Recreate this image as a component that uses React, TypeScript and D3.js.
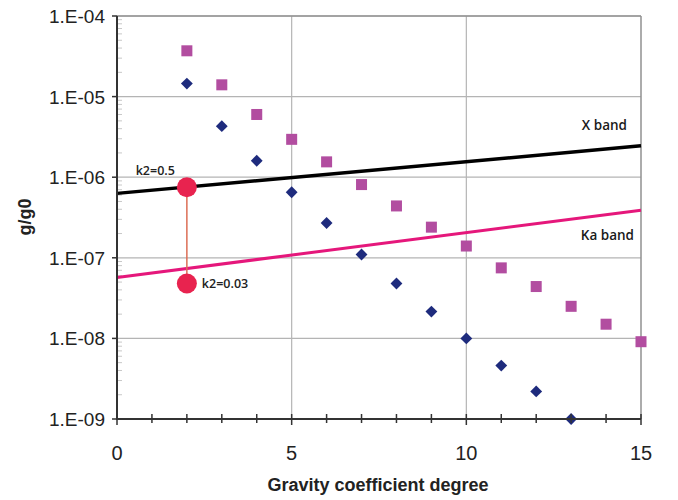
import React from 'react';
import * as d3 from 'd3';

// degrees and values
const degrees = [2, 3, 4, 5, 6, 7, 8, 9, 10, 11, 12, 13, 14, 15];
const diamondValues = [1.45e-5, 4.3e-6, 1.6e-6, 6.5e-7, 2.7e-7, 1.1e-7, 4.8e-8, 2.15e-8, 1.0e-8, 4.6e-9, 2.2e-9, 1.0e-9];
const squareValues = [3.7e-5, 1.4e-5, 6.0e-6, 2.95e-6, 1.55e-6, 8.1e-7, 4.4e-7, 2.4e-7, 1.4e-7, 7.5e-8, 4.4e-8, 2.5e-8, 1.5e-8, 9.1e-9];
const xBand = [{ x: 0, y: 6.3e-7 }, { x: 15, y: 2.45e-6 }];
const kaBand = [{ x: 0, y: 5.7e-8 }, { x: 15, y: 3.9e-7 }];
const k2Points = [{ x: 2, y: 7.5e-7, label: 'k2=0.5' }, { x: 2, y: 4.8e-8, label: 'k2=0.03' }];
const yTicks = [1e-4, 1e-5, 1e-6, 1e-7, 1e-8, 1e-9];
const yTickLabels = ['1.E-04', '1.E-05', '1.E-06', '1.E-07', '1.E-08', '1.E-09'];
const xTicks = [0, 5, 10, 15];

const W = 678;
const H = 500;
const margin = { top: 16, right: 37, bottom: 81, left: 117 };

export default function App() {
    const x = d3.scaleLinear().domain([0, 15]).range([margin.left, W - margin.right]);
    const y = d3.scaleLog().domain([1e-9, 1e-4]).range([H - margin.bottom, margin.top]);

    const minorY: number[] = [];
    for (let e = -9; e < -4; e++) {
        for (let m = 2; m <= 9; m++) minorY.push(m * Math.pow(10, e));
    }
    const minorX = d3.range(0, 16);

    const line = d3.line<{ x: number; y: number }>().x(d => x(d.x)).y(d => y(d.y));
    // square turned 45 degrees, as in the original chart
    const diamond = d3.symbol().type(d3.symbolSquare).size(70)();
    const left = x(0), right = x(15), top = y(1e-4), bottom = y(1e-9);
    const sans = 'Liberation Sans, Arial, sans-serif';
    const labelFont = 'Open Sans, sans-serif';

    return (
        <svg width={W} height={H} style={{ position: 'absolute', left: 0, top: 0, background: '#fff' }}>
            {/* grid */}
            {yTicks.map(t => (
                <line key={'gy' + t} x1={left} x2={right} y1={y(t)} y2={y(t)} stroke="#b4b4b4" strokeWidth={1.2} />
            ))}
            {[5, 10].map(t => (
                <line key={'gx' + t} x1={x(t)} x2={x(t)} y1={top} y2={bottom} stroke="#b4b4b4" strokeWidth={1.2} />
            ))}
            <line x1={right} x2={right} y1={top} y2={bottom} stroke="#909090" strokeWidth={1.5} />
            <line x1={left} x2={right} y1={top} y2={top} stroke="#909090" strokeWidth={1.5} />

            {/* minor y ticks */}
            {minorY.map(t => (
                <line key={'my' + t} x1={left} x2={left + 5} y1={y(t)} y2={y(t)} stroke="#c8c8c8" strokeWidth={1} />
            ))}

            {/* band lines */}
            <path d={line(xBand) || ''} fill="none" stroke="#000" strokeWidth={3.5} />
            <path d={line(kaBand) || ''} fill="none" stroke="#e5177b" strokeWidth={3} />

            {/* squares */}
            {squareValues.map((v, i) => (
                <rect key={'s' + i} x={x(degrees[i]) - 5.5} y={y(v) - 5.5} width={11} height={11} fill="#b24da0" />
            ))}
            {/* diamonds */}
            {diamondValues.map((v, i) => (
                <path key={'d' + i} d={diamond || ''} transform={`translate(${x(degrees[i])},${y(v)}) rotate(45)`} fill="#1e2b7d" />
            ))}

            {/* k2 range */}
            <line x1={x(k2Points[0].x)} x2={x(k2Points[1].x)} y1={y(k2Points[0].y)} y2={y(k2Points[1].y)} stroke="#dc6e55" strokeWidth={1.5} />
            {k2Points.map(p => (
                <circle key={p.label} cx={x(p.x)} cy={y(p.y)} r={10} fill="#e8234f" />
            ))}
            <text x={x(2) - 12} y={y(k2Points[0].y) - 12} textAnchor="end" fontFamily={labelFont} fontWeight={600} fontSize={12.5} fill="#222">{k2Points[0].label}</text>
            <text x={x(2) + 15} y={y(k2Points[1].y) + 5} fontFamily={labelFont} fontWeight={600} fontSize={12.5} fill="#222">{k2Points[1].label}</text>

            <text x={right - 14} y={130} textAnchor="end" fontFamily={labelFont} fontWeight={600} fontSize={13.5} fill="#1a1a1a">X band</text>
            <text x={right - 7} y={240} textAnchor="end" fontFamily={labelFont} fontWeight={600} fontSize={13.5} fill="#1a1a1a">Ka band</text>

            {/* left axis */}
            <line x1={left} x2={left} y1={top} y2={bottom + 1} stroke="#333" strokeWidth={2} />
            {yTicks.map((t, i) => (
                <g key={'yt' + t}>
                    <line x1={left - 5} x2={left} y1={y(t)} y2={y(t)} stroke="#333" strokeWidth={1.5} />
                    <text x={left - 12} y={y(t) + 7} textAnchor="end" fontFamily={sans} fontSize={19} fill="#222">{yTickLabels[i]}</text>
                </g>
            ))}

            {/* bottom axis */}
            <line x1={left} x2={right} y1={bottom} y2={bottom} stroke="#333" strokeWidth={2} />
            {minorX.map(t => (
                <line key={'xt' + t} x1={x(t)} x2={x(t)} y1={bottom - 5} y2={bottom + (t % 5 === 0 ? 6 : 4)} stroke="#333" strokeWidth={1.5} />
            ))}
            {xTicks.map(t => (
                <text key={'xl' + t} x={x(t)} y={bottom + 41} textAnchor="middle" fontFamily={sans} fontSize={20} fill="#222">{t}</text>
            ))}

            <text x={378} y={491} textAnchor="middle" fontFamily={sans} fontWeight="bold" fontSize={18} fill="#222">Gravity coefficient degree</text>
            <text transform="translate(31,217) rotate(-90)" textAnchor="middle" fontFamily={sans} fontWeight="bold" fontSize={18} fill="#222">g/g0</text>
        </svg>
    );
}
